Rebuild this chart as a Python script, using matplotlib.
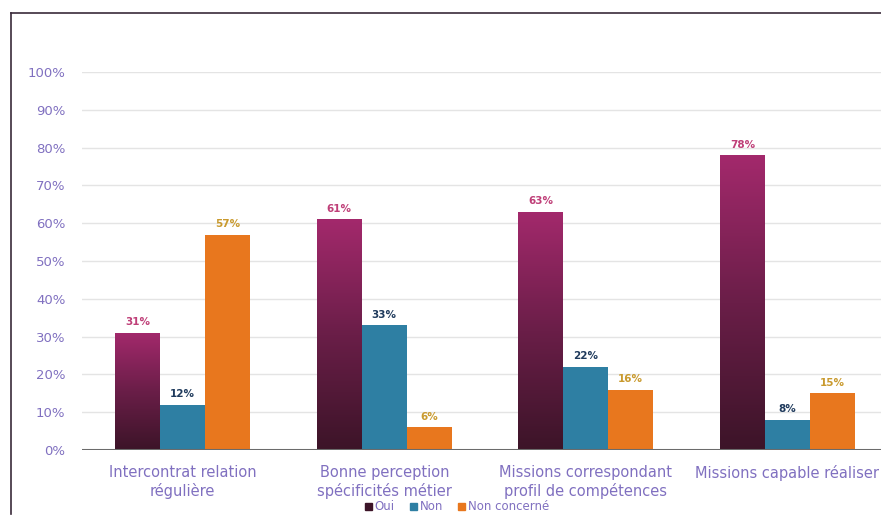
import numpy as np
import matplotlib
matplotlib.use("Agg")
import matplotlib.pyplot as plt
from matplotlib.colors import LinearSegmentedColormap
from matplotlib.lines import Line2D
from matplotlib.patches import Patch

categories = [
    "Intercontrat relation\nrégulière",
    "Bonne perception\nspécificités métier",
    "Missions correspondant\nprofil de compétences",
    "Missions capable réaliser",
]
series_names = ["Oui", "Non", "Non concerné"]
oui = [31, 61, 63, 78]
non = [12, 33, 22, 8]
non_concerne = [57, 6, 16, 15]
yticks = [0, 10, 20, 30, 40, 50, 60, 70, 80, 90, 100]

bar_colors = ["#7a2050", "#2e7fa3", "#e8771e"]
label_colors = ["#bf3f78", "#1f3a5c", "#c99a2e"]
text_purple = "#8070c0"

fig = plt.figure(figsize=(8.81, 5.23), dpi=100)
ax = fig.add_axes([82 / 881, 73 / 523, (888 - 82) / 881, (450 - 72) / 523])

x = np.arange(len(categories))
w = 0.223
offsets = [-w, 0, w]
data = [oui, non, non_concerne]

# horizontal grid
for t in yticks[1:]:
    ax.axhline(t, color="#e4e4e4", lw=1.0, zorder=0)

grad_cmap = LinearSegmentedColormap.from_list("oui", ["#3c1428", "#6a1e48", "#a3296c"])
gradient = np.linspace(0, 1, 256).reshape(-1, 1)

for i, (vals, off) in enumerate(zip(data, offsets)):
    bars = ax.bar(x + off, vals, width=w, color=bar_colors[i], zorder=2, linewidth=0)
    if i == 0:
        for b in bars:
            x0 = b.get_x()
            im = ax.imshow(gradient, cmap=grad_cmap, origin="lower", aspect="auto",
                           extent=[x0, x0 + b.get_width(), 0, b.get_height()], zorder=3)
            im.set_clip_path(b)
    ax.bar_label(bars, labels=[f"{v}%" for v in vals], padding=4,
                 color=label_colors[i], fontsize=7.5, fontweight="bold", zorder=4)

ax.axhline(0, color="#6b6b6b", lw=2.2, zorder=5)

ax.set_xlim(-0.5, len(categories) - 0.5)
ax.set_ylim(0, 100)
ax.set_yticks(yticks)
ax.set_yticklabels([f"{t}%" for t in yticks], color=text_purple, fontsize=9.5)
ax.set_xticks(x)
ax.set_xticklabels(categories, color=text_purple, fontsize=10.5, linespacing=1.2)
ax.tick_params(axis="both", length=0)
ax.tick_params(axis="y", pad=12)
ax.tick_params(axis="x", pad=11)
for s in ax.spines.values():
    s.set_visible(False)

handles = [Patch(color="#3c1428"), Patch(color=bar_colors[1]), Patch(color=bar_colors[2])]
fig.legend(handles, series_names, loc="center", bbox_to_anchor=(457 / 881, 1 - 507 / 523),
           ncol=3, frameon=False, fontsize=8.5, handlelength=0.6, handleheight=0.6,
           handletextpad=0.2, columnspacing=1.3, labelcolor=text_purple)

# page frame
fig.add_artist(Line2D([11 / 881, 1.0], [1 - 13 / 523, 1 - 13 / 523], color="#3a2a3a", lw=1.2))
fig.add_artist(Line2D([11 / 881, 11 / 881], [1 - 13 / 523, 1 - 514 / 523], color="#3a2a3a", lw=1.2))

fig.savefig("out.png", dpi=100)
